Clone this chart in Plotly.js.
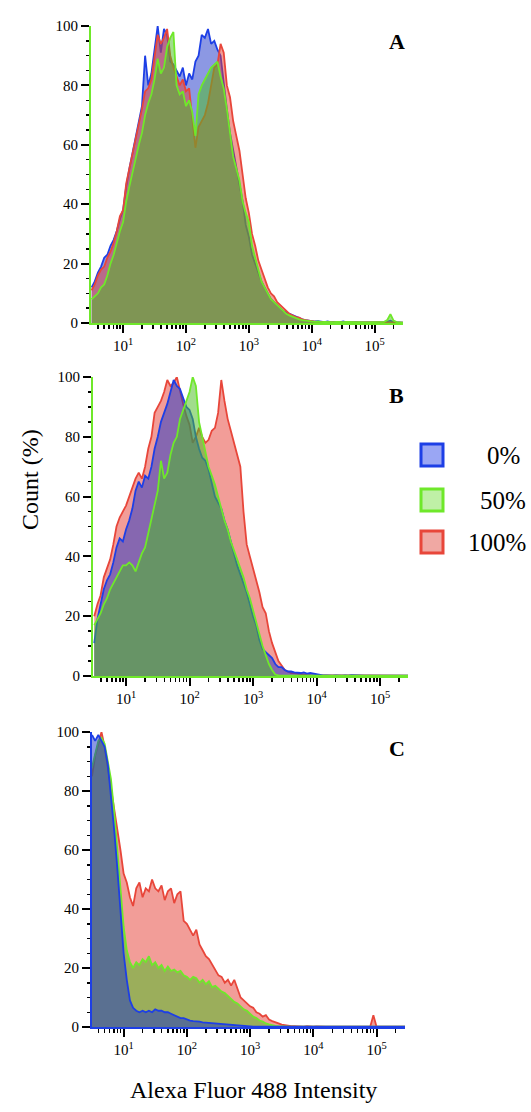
<!DOCTYPE html>
<html><head><meta charset="utf-8">
<script src="https://cdn.plot.ly/plotly-3.0.1.min.js"></script>
<style>html,body{margin:0;padding:0;background:#fff}</style>
</head><body><div id="chart" style="width:531px;height:1112px"></div>
<script>
// ---- data ----
const seriesNames = ['0%', '50%', '100%'];
const panelLetters = ['A', 'B', 'C'];
// histogram bin centres, as powers of ten (decades)
const binExponents = [
 0.50,0.55,0.60,0.65,0.70,0.75,0.80,0.85,0.90,0.95,
 1.00,1.05,1.10,1.15,1.20,1.25,1.30,1.35,1.40,1.45,
 1.50,1.55,1.60,1.65,1.70,1.75,1.80,1.85,1.90,1.95,
 2.00,2.05,2.10,2.15,2.20,2.25,2.30,2.35,2.40,2.45,
 2.50,2.55,2.60,2.65,2.70,2.75,2.80,2.85,2.90,2.95,
 3.00,3.05,3.10,3.15,3.20,3.25,3.30,3.35,3.40,3.45,
 3.50,3.55,3.60,3.65,3.70,3.75,3.80,3.85,3.90,3.95,
 4.00,4.05,4.10,4.15,4.20,4.25,4.30,4.35,4.40,4.45,
 4.50,4.55,4.60,4.65,4.70,4.75,4.80,4.85,4.90,4.95,
 5.00,5.05,5.10,5.15,5.20,5.25,5.30,5.35,5.40,5.45];

// Panel A
const aBlue = [
 12,14,17,19,22,23,26,28,31,35,
 38,46,52,57,62,68,73,90,80,84,
 92,100,91,99,97,88,87,85,83,86,
 80,84,82,88,90,97,96,99,94,95,
 92,90,80,72,64,58,53,47,41,33,
 29,23,20,17,14,12,10,8,7,6,
 5,4,3.5,3,2.5,2,1.5,1.2,1,0.8,
 0.6,0.5,0.6,0.4,0.3,0.5,0.3,0.4,0.2,0.3,
 0.5,0.2,0.3,0.2,0.3,0.2,0.2,0.3,0.2,0.2,
 0.3,0.2,0.2,0.3,0.5,0.8,0.3,0.2,0.1,0.1];
const aGreen = [
 8,9,10,12,13,16,20,23,27,31,
 34,41,46,51,56,60,64,70,74,77,
 82,89,84,86,93,96,98,80,77,78,
 73,75,71,63,77,80,82,84,86,87,
 88,83,79,72,64,56,52,48,41,37,
 34,26,22,18,14,12,10,8,7,6,
 5,4,3,2.5,2,1.5,1.2,1,0.8,0.7,
 0.5,0.4,0.5,0.3,0.4,0.3,0.2,0.3,0.4,0.3,
 0.3,0.4,0.3,0.2,0.3,0.3,0.2,0.3,0.2,0.3,
 0.3,0.2,0.3,0.4,1,3,0.8,0.3,0.2,0.1];
const aRed = [
 11,13,16,18,19,22,24,27,31,36,
 38,47,52,57,61,66,72,78,79,82,
 89,97,94,96,99,90,86,83,80,82,
 78,79,70,59,66,68,70,74,80,86,
 87,94,91,80,76,68,63,58,50,42,
 37,30,26,21,18,15,12,10,9,7,
 6,5,4,3,2.5,2,1.8,1.2,1,0.8,
 0.6,0.4,0.3,0.4,0.2,0.3,0.2,0.3,0.2,0.2,
 0.3,0.2,0.2,0.2,0.3,0.2,0.2,0.2,0.3,0.2,
 0.2,0.2,0.2,0.2,0.3,0.4,0.2,0.1,0.1,0.1];

// Panel B
const bBlue = [
 11,19,24,29,32,34,38,43,46,45,
 49,52,56,62,65,63,67,66,70,76,
 80,85,88,91,95,99,97,96,93,90,
 89,86,80,76,73,72,69,64,60,58,
 56,52,49,45,41,37,34,31,28,24,
 20,17,12,9,8,7,6,4,3,3,
 2,1.5,1.5,1.2,1,1,1.2,0.8,1,0.8,
 0.6,0.3,0.2,0.2,0.1,0.1,0.2,0.1,0.1,0.2,
 0.1,0.3,0.2,0.1,0.1,0.1,0.1,0.1,0.1,0.1,
 0.1,0.1,0.1,0.1,0.1,0.1,0.1,0.1,0.1,0.1];
const bGreen = [
 17,19,21,24,26,29,31,33,35,37,
 37,38,37,35,38,41,43,48,53,57,
 62,72,66,68,74,78,80,86,89,92,
 95,100,97,85,80,74,70,67,64,60,
 56,52,49,45,42,39,36,33,29,26,
 22,18,14,10,7,4,2,0.5,0.2,0.1,
 0.1,0.1,0.1,0.1,0.1,0.1,0.1,0.1,0.1,0.1,
 0.1,0.1,0.1,0.1,0.1,0.1,0.1,0.1,0.1,0.1,
 0.1,0.1,0.1,0.1,0.1,0.1,0.1,0.1,0.1,0.1,
 0.1,0.1,0.1,0.1,0.1,0.1,0.1,0.1,0.1,0.1];
const bRed = [
 20,24,27,33,36,39,44,50,53,55,
 57,60,63,66,68,66,70,76,80,88,
 90,92,95,99,97,98,100,95,91,87,
 84,78,80,83,80,78,79,82,83,88,
 99,92,86,82,78,74,70,55,44,40,
 36,32,28,23,21,15,11,8,5,3.5,
 2,1.5,1,1,0.8,0.6,0.5,0.4,0.3,0.3,
 0.2,0.2,0.1,0.1,0.2,0.1,0.1,0.1,0.1,0.1,
 0.1,0.1,0.3,0.1,0.1,0.1,0.2,0.1,0.1,0.1,
 0.1,0.1,0.1,0.1,0.1,0.1,0.1,0.1,0.1,0.1];

// Panel C
const cBlue = [
 99,97,99,97,95,89,79,67,54,40,
 25,16,9,6.5,5.5,5,5.5,5,5.5,5,
 6,5.5,5.5,5,5,4.5,4,3.5,3,3,
 2.5,2.2,2,2,1.8,1.6,1.5,1.5,1.3,1.2,
 1.1,1,0.9,0.8,0.6,0.5,0.4,0.3,0.3,0.2,
 0.1,0.1,0.1,0.1,0.1,0.1,0.1,0.1,0.1,0.1,
 0.1,0.1,0.1,0.1,0.1,0.1,0.1,0.1,0.1,0.1,
 0.1,0.1,0.1,0.1,0.1,0.1,0.1,0.1,0.1,0.1,
 0.1,0.1,0.1,0.1,0.1,0.1,0.1,0.1,0.1,0.1,
 0.1,0.1,0.1,0.1,0.1,0.1,0.1,0.1,0.1,0.1];
const cGreen = [
 88,93,97,98,96,90,84,73,61,47,
 34,26,22,20,22,21,23,22,24,21,
 22,20,21,19,20.5,19,19.5,18.5,19,17.5,
 17,16,17,16.5,15,16,14.5,15.5,13.5,14,
 13,12,11.5,10.5,9.5,8.5,8,7,6,5.5,
 4.5,3.5,3,2.2,1.8,1.2,0.9,0.6,0.4,0.3,
 0.2,0.1,0.1,0.1,0.1,0.1,0.1,0.1,0.1,0.1,
 0.1,0.1,0.1,0.1,0.1,0.1,0.1,0.1,0.1,0.1,
 0.1,0.1,0.1,0.1,0.1,0.1,0.1,0.1,0.1,0.1,
 0.1,0.1,0.1,0.1,0.1,0.1,0.1,0.1,0.1,0.1];
const cRed = [
 85,92,96,100,95,88,82,75,67,60,
 52,49,44,41,47,49,44,47,46,50,
 47,46,48,43,46,47,42,45,46,36,
 35,33,31,33,28,26,24,23,21,19,
 17.5,17,15,16,14,16,13,10,9,8,
 7,6.5,5,4.5,3.5,4,2.5,2,1.5,1.2,
 0.8,0.6,0.4,0.3,0.3,0.2,0.2,0.1,0.3,0.1,
 0.1,0.2,0.1,0.1,0.1,0.1,0.1,0.3,0.1,0.1,
 0.1,0.1,0.1,0.1,0.2,0.1,0.1,0.1,0.1,4,
 0.1,0.1,0.1,0.1,0.1,0.1,0.1,0.1,0.1,0.1];

const xTickVals = [10, 100, 1000, 10000, 100000];
const xTickText = ['10<sup>1</sup>', '10<sup>2</sup>', '10<sup>3</sup>', '10<sup>4</sup>', '10<sup>5</sup>'];
const xMinorVals = [4,5,6,7,8,9,20,30,40,50,60,70,80,90,200,300,400,500,600,700,800,900,
  2000,3000,4000,5000,6000,7000,8000,9000,20000,30000,40000,50000,60000,70000,80000,90000,200000];
const yTickVals = [0, 20, 40, 60, 80, 100];
const yTickText = ['0', '20', '40', '60', '80', '100'];
const xTitle = 'Alexa Fluor 488 Intensity';
const yTitle = 'Count (%)';

// ---- styles ----
const FONT = 'Liberation Serif';
const W = 531, H = 1112;
const lineCol = {'0%': '#1d3fe6', '50%': '#6fe82a', '100%': '#e8463a'};
const fillCol = {'0%': 'rgba(25,50,200,0.5)', '50%': 'rgba(75,190,35,0.52)', '100%': 'rgba(230,60,50,0.5)'};
const swatchFill = {'0%': '#9aa6f4', '50%': '#bff0a6', '100%': '#f0a8a3'};

const xVals = binExponents.map(e => Math.pow(10, e));

function tr(y, name, k) {
  const s = k === 1 ? '' : String(k);
  return {x: xVals, y: y, name: name, type: 'scatter', mode: 'lines', fill: 'tozeroy',
    line: {color: lineCol[name], width: 1.8}, fillcolor: fillCol[name],
    xaxis: 'x' + s, yaxis: 'y' + s, showlegend: false, hoverinfo: 'skip'};
}

const traces = [
  tr(aBlue, seriesNames[0], 1), tr(aRed, seriesNames[2], 1), tr(aGreen, seriesNames[1], 1),
  tr(bRed, seriesNames[2], 2), tr(bBlue, seriesNames[0], 2), tr(bGreen, seriesNames[1], 2),
  tr(cRed, seriesNames[2], 3), tr(cGreen, seriesNames[1], 3), tr(cBlue, seriesNames[0], 3)
];

function xa(domain, range, lc, anchor) {
  return {domain: domain, anchor: anchor, type: 'log', range: range,
    showline: true, linecolor: lc, linewidth: 2, showgrid: false, zeroline: false,
    ticks: 'outside', ticklen: 8, tickwidth: 2, tickcolor: '#000',
    tickmode: 'array', tickvals: xTickVals, ticktext: xTickText,
    tickfont: {family: FONT, size: 15, color: '#000'},
    minor: {tickmode: 'array', tickvals: xMinorVals, ticks: 'outside', ticklen: 4, tickwidth: 1.5, tickcolor: '#000', showgrid: false},
    fixedrange: true};
}
function ya(domain, lc, anchor) {
  return {domain: domain, anchor: anchor, range: [0, 100],
    showline: true, linecolor: lc, linewidth: 2, showgrid: false, zeroline: false,
    ticks: 'outside', ticklen: 8, tickwidth: 2, tickcolor: '#000',
    tickmode: 'array', tickvals: yTickVals, ticktext: yTickText,
    tickfont: {family: FONT, size: 15, color: '#000'},
    minor: {dtick: 5, ticks: 'outside', ticklen: 3, tickwidth: 1.5, tickcolor: '#000', showgrid: false},
    fixedrange: true};
}

const layout = {
  width: W, height: H, margin: {l: 0, r: 0, t: 0, b: 0},
  paper_bgcolor: '#fff', plot_bgcolor: 'rgba(0,0,0,0)', showlegend: false,
  font: {family: FONT, color: '#000'},
  xaxis:  xa([91/W, 403/W], [0.49, 5.45], lineCol['50%'], 'y'),
  yaxis:  ya([1 - 323/H, 1 - 26/H], lineCol['50%'], 'x'),
  xaxis2: xa([93/W, 408/W], [0.48, 5.44], lineCol['50%'], 'y2'),
  yaxis2: ya([1 - 676/H, 1 - 377/H], lineCol['50%'], 'x2'),
  xaxis3: xa([92/W, 405/W], [0.50, 5.45], lineCol['0%'], 'y3'),
  yaxis3: ya([1 - 1027/H, 1 - 732/H], lineCol['0%'], 'x3'),
  annotations: [],
  shapes: []
};

const letterPos = [[397, 42], [396, 395], [397, 748]];
panelLetters.forEach((t, i) => {
  layout.annotations.push({text: '<b>' + t + '</b>', xref: 'paper', yref: 'paper',
    x: letterPos[i][0] / W, y: 1 - letterPos[i][1] / H, xanchor: 'center', yanchor: 'middle',
    showarrow: false, font: {family: FONT, size: 22, color: '#000'}});
});

layout.annotations.push({text: yTitle, xref: 'paper', yref: 'paper', x: 30 / W, y: 1 - 480 / H,
  textangle: -90, xanchor: 'center', yanchor: 'middle', showarrow: false,
  font: {family: FONT, size: 24, color: '#000'}});
layout.annotations.push({text: xTitle, xref: 'paper', yref: 'paper', x: 253 / W, y: 1 - 1090 / H,
  xanchor: 'center', yanchor: 'middle', showarrow: false,
  font: {family: FONT, size: 24, color: '#000'}});

const legY = [455, 500, 542];
const legTextX = [522, 528, 528];
seriesNames.forEach((n, i) => {
  layout.shapes.push({type: 'rect', xref: 'paper', yref: 'paper',
    x0: 421 / W, x1: 443 / W, y0: 1 - (legY[i] + 11) / H, y1: 1 - (legY[i] - 11) / H,
    fillcolor: swatchFill[n], line: {color: lineCol[n], width: 3}});
  layout.annotations.push({text: n, xref: 'paper', yref: 'paper', x: legTextX[i] / W, y: 1 - legY[i] / H,
    xanchor: 'right', yanchor: 'middle', showarrow: false,
    font: {family: FONT, size: 25, color: '#000'}});
});

Plotly.newPlot('chart', traces, layout, {staticPlot: true, displayModeBar: false});
</script></body></html>
